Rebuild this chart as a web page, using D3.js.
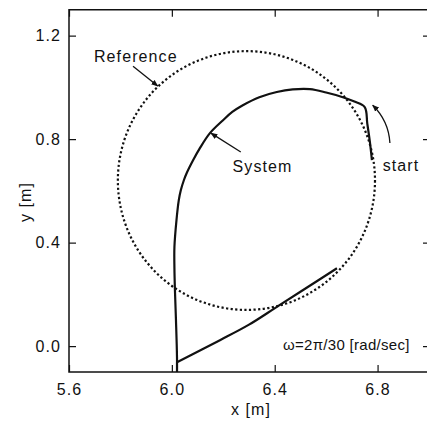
<!DOCTYPE html>
<html>
  <head>
    <title>Trajectory</title>
    <style>
      body { margin: 0; background: #fff; }
      text { font-family: 'Liberation Sans', Arial, sans-serif; fill: #111; }
    </style>
  </head>
  <body>
    <div><svg id='chart'/></div>
  </body>
  <script type="text/javascript" src="https://cdn.jsdelivr.net/npm/d3@7"></script>
  <script type="text/javascript">
    // tick labels
    const xTicks = [5.6, 6.0, 6.4, 6.8];
    const yTicks = [0.0, 0.4, 0.8, 1.2];

    // system trajectory, from start
    const sysX = [6.778, 6.770, 6.760, 6.750, 6.710, 6.665, 6.600, 6.537, 6.470, 6.408, 6.340,
                  6.276, 6.235, 6.199, 6.148, 6.109, 6.083, 6.057, 6.047, 6.035, 6.027,
                  6.018, 6.010, 6.010, 6.012, 6.016, 6.020, 6.020, 6.020];
    const sysY = [0.719, 0.790, 0.860, 0.924, 0.945, 0.962, 0.980, 0.993, 0.992, 0.982, 0.962,
                  0.931, 0.905, 0.873, 0.823, 0.765, 0.719, 0.667, 0.642, 0.603, 0.564,
                  0.487, 0.383, 0.300, 0.216, 0.100, -0.043, -0.120, -0.062];
    // return leg
    const retX = [6.020, 6.187, 6.300, 6.401, 6.509, 6.642];
    const retY = [-0.062, 0.023, 0.083, 0.147, 0.216, 0.301];

    // reference circle
    const refCenter = [6.29, 0.64];
    const refRadius = 0.5;

    const [width, height] = [427, 421];
    var svg = d3.select('#chart')
      .attr('width', width)
      .attr('height', height)

    var x = d3.scaleLinear().domain([5.6, 7.0]).range([69, 429])
    var y = d3.scaleLinear().domain([-0.1, 1.3]).range([372, 9.75])

    svg.append('defs').append('clipPath').attr('id', 'clip')
      .append('rect')
      .attr('x', x(5.6)).attr('y', y(1.3))
      .attr('width', x(7.0) - x(5.6)).attr('height', y(-0.1) - y(1.3))

    svg.select('defs').append('marker')
      .attr('id', 'head')
      .attr('viewBox', '0 0 10 10')
      .attr('refX', 9).attr('refY', 5)
      .attr('markerWidth', 7).attr('markerHeight', 7)
      .attr('markerUnits', 'userSpaceOnUse')
      .attr('orient', 'auto')
      .append('path')
      .attr('d', 'M0,1 L10,5 L0,9 z')
      .attr('fill', '#111')

    // axes
    function style(g) {
      g.select('.domain').remove()
      g.selectAll('line').attr('stroke', '#111').attr('stroke-width', 1.2)
      g.selectAll('text').style('font-size', '16px').style('letter-spacing', '1.1px')
        .style('font-family', "'Liberation Sans', Arial, sans-serif").attr('fill', '#111')
    }
    svg.append('g')
      .attr('transform', 'translate(0,' + y(-0.1) + ')')
      .call(d3.axisBottom(x).tickValues(xTicks).tickFormat(d3.format('.1f'))
        .tickSizeInner(-7).tickSizeOuter(0).tickPadding(12))
      .call(style)
    svg.append('g')
      .attr('transform', 'translate(0,' + y(1.3) + ')')
      .call(d3.axisTop(x).tickValues(xTicks).tickFormat('').tickSizeInner(-7).tickSizeOuter(0))
      .call(style)
    svg.append('g')
      .attr('transform', 'translate(' + x(5.6) + ',0)')
      .call(d3.axisLeft(y).tickValues(yTicks).tickFormat(d3.format('.1f'))
        .tickSizeInner(-7).tickSizeOuter(0).tickPadding(8))
      .call(style)
    svg.append('g')
      .attr('transform', 'translate(' + x(7.0) + ',0)')
      .call(d3.axisRight(y).tickValues(yTicks).tickFormat('').tickSizeInner(-6).tickSizeOuter(0))
      .call(style)

    // frame
    svg.append('rect')
      .attr('x', x(5.6)).attr('y', y(1.3))
      .attr('width', x(7.0) - x(5.6)).attr('height', y(-0.1) - y(1.3))
      .attr('fill', 'none').attr('stroke', '#111').attr('stroke-width', 1.5)

    var plot = svg.append('g').attr('clip-path', 'url(#clip)')

    // dotted reference
    plot.append('ellipse')
      .attr('cx', x(refCenter[0])).attr('cy', y(refCenter[1]))
      .attr('rx', x(refCenter[0] + refRadius) - x(refCenter[0]))
      .attr('ry', y(refCenter[1]) - y(refCenter[1] + refRadius))
      .attr('fill', 'none').attr('stroke', '#111')
      .attr('stroke-width', 2.2).attr('stroke-dasharray', '2.2,2.4')

    var line = d3.line()
      .x(d => x(d[0])).y(d => y(d[1]))
      .curve(d3.curveCatmullRom.alpha(0.5))

    plot.append('path')
      .datum(d3.zip(sysX, sysY))
      .attr('d', line)
      .attr('fill', 'none').attr('stroke', '#111').attr('stroke-width', 2.2)
      .attr('stroke-linejoin', 'round')
    plot.append('path')
      .datum(d3.zip(retX, retY))
      .attr('d', line)
      .attr('fill', 'none').attr('stroke', '#111').attr('stroke-width', 2.2)

    // annotations
    var ann = svg.append('g').style('font-size', '16px').style('letter-spacing', '1.1px')
    function arrow(p0, p1) {
      ann.append('line')
        .attr('x1', x(p0[0])).attr('y1', y(p0[1]))
        .attr('x2', x(p1[0])).attr('y2', y(p1[1]))
        .attr('stroke', '#111').attr('stroke-width', 1.3)
        .attr('marker-end', 'url(#head)')
    }
    ann.append('text').attr('x', x(5.697)).attr('y', y(1.098)).text('Reference')
    arrow([5.849, 1.082], [5.945, 1.005])
    ann.append('text').attr('x', x(6.236)).attr('y', y(0.674)).text('System')
    arrow([6.268, 0.750], [6.152, 0.823])
    ann.append('text').attr('x', x(6.820)).attr('y', y(0.676)).text('start')
    ann.append('path')
      .attr('d', 'M' + x(6.848) + ',' + y(0.785) + ' Q' + x(6.843) + ',' + y(0.871) +
        ' ' + x(6.781) + ',' + y(0.931))
      .attr('fill', 'none').attr('stroke', '#111').attr('stroke-width', 1.3)
      .attr('marker-end', 'url(#head)')
    ann.append('text').attr('x', x(6.432)).attr('y', y(-0.015))
      .style('font-size', '15px').style('letter-spacing', '0.3px')
      .text('ω=2π/30 [rad/sec]')

    // axis titles
    svg.append('text')
      .attr('x', 251).attr('y', 415)
      .attr('text-anchor', 'middle')
      .style('font-size', '16px').style('letter-spacing', '1.1px')
      .text('x [m]')
    svg.append('text')
      .attr('transform', 'translate(31,202) rotate(-90)')
      .attr('text-anchor', 'middle')
      .style('font-size', '16px').style('letter-spacing', '1.1px')
      .text('y [m]')
  </script>
</html>
